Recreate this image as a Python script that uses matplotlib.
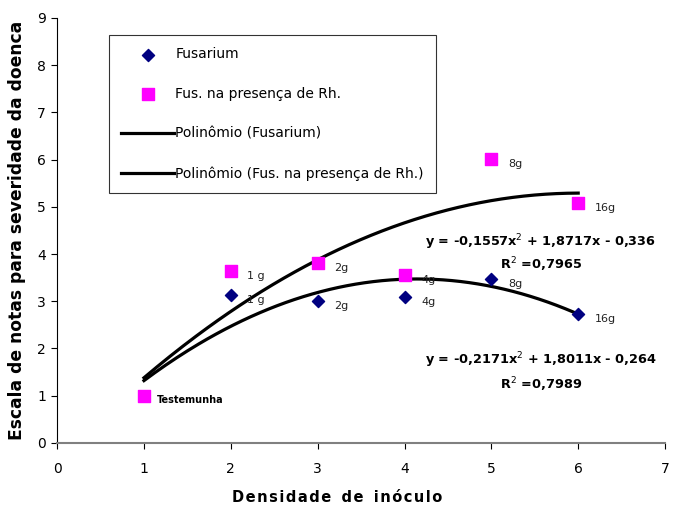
import numpy as np
import matplotlib.pyplot as plt

# Data
x_fus = [2, 3, 4, 5, 6]
y_fus = [3.14, 3.01, 3.09, 3.47, 2.74]
lab_fus = ["1 g", "2g", "4g", "8g", "16g"]

x_rh = [1, 2, 3, 4, 5, 6]
y_rh = [1.0, 3.64, 3.82, 3.56, 6.02, 5.08]
lab_rh = ["Testemunha", "1 g", "2g", "4g", "8g", "16g"]

# Trendline coefficients (as shown on the chart)
coef_fus = [-0.2171, 1.8011, -0.264]
coef_rh = [-0.1557, 1.8717, -0.336]
eq_fus = "y = -0,2171x$^{2}$ + 1,8011x - 0,264"
r2_fus = "R$^{2}$ =0,7989"
eq_rh = "y = -0,1557x$^{2}$ + 1,8717x - 0,336"
r2_rh = "R$^{2}$ =0,7965"

fig = plt.figure(figsize=(6.8, 5.08), dpi=100)
ax = fig.add_axes([0.084, 0.128, 0.894, 0.837])

xs = np.linspace(1, 6, 200)
ax.scatter(x_fus, y_fus, marker="D", s=38, color="#000080", zorder=3, label="Fusarium")
ax.scatter(x_rh, y_rh, marker="s", s=75, color="#FF00FF", zorder=3, label="Fus. na presença de Rh.")
ax.plot(xs, np.polyval(coef_fus, xs), color="black", lw=2.3, zorder=2, label="Polinômio (Fusarium)")
ax.plot(xs, np.polyval(coef_rh, xs), color="black", lw=2.3, zorder=2, label="Polinômio (Fus. na presença de Rh.)")

# point labels
for x, y, t in zip(x_fus, y_fus, lab_fus):
    ax.annotate(t, (x, y), xytext=(12, -6), textcoords="offset points", fontsize=8, color="#222222")
for x, y, t in zip(x_rh, y_rh, lab_rh):
    if t == "Testemunha":
        ax.annotate(t, (x, y), xytext=(9, -5), textcoords="offset points", fontsize=7, fontweight="bold")
    else:
        ax.annotate(t, (x, y), xytext=(12, -6), textcoords="offset points", fontsize=8, color="#222222")

# equations
kw = dict(fontsize=9.3, fontweight="bold", ha="center", va="center")
ax.text(5.57, 4.25, eq_rh, **kw)
ax.text(5.57, 3.78, r2_rh, **kw)
ax.text(5.57, 1.75, eq_fus, **kw)
ax.text(5.57, 1.24, r2_fus, **kw)

ax.set_xlim(0, 7)
ax.set_ylim(0, 9)
ax.set_xticks(range(0, 8))
ax.set_yticks(range(0, 10))
for s in ["top", "right"]:
    ax.spines[s].set_visible(False)
ax.spines["bottom"].set_color("#808080")
ax.spines["bottom"].set_linewidth(1.5)
ax.spines["left"].set_color("black")
ax.spines["left"].set_linewidth(0.8)
ax.tick_params(direction="out", length=4, labelsize=10, pad=10)
ax.tick_params(axis="y", pad=4)

xlab = "  ".join("\u200a".join(w) for w in "Densidade de inóculo".split())
ax.set_xlabel(xlab, fontsize=10.5, fontweight="bold")
ax.xaxis.set_label_coords(0.46, -0.11)
ax.set_ylabel("Escala de notas para severidade da doenca", fontsize=12.3, fontweight="heavy", labelpad=8)

leg = ax.legend(loc="upper left", bbox_to_anchor=(0.085, 0.96), frameon=True, fancybox=False,
                edgecolor="black", fontsize=10, labelspacing=1.85, handlelength=3.8,
                borderpad=0.9, handletextpad=0.1, borderaxespad=0)
leg.get_frame().set_linewidth(0.8)

fig.savefig("out.png", dpi=100)
